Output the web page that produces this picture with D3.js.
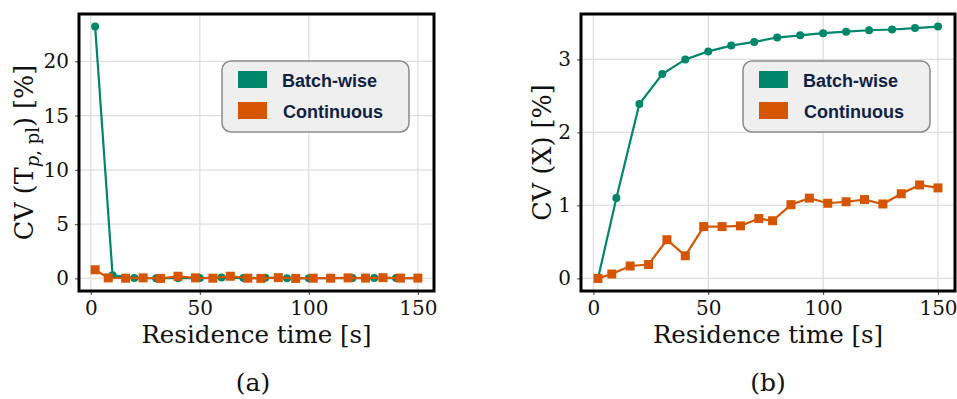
<!DOCTYPE html>
<html>
<head>
<meta charset="utf-8">
<script src="https://cdn.jsdelivr.net/npm/d3@7"></script>
<style>
  body { margin: 0; background: #fff; }
  svg text { font-family: "DejaVu Serif", serif; fill: #111; }
  .legend text { font-family: "Liberation Sans", Arial, sans-serif; font-weight: bold; fill: #0f1f45; }
</style>
</head>
<body>
<script>
var W = 957, H = 399;

// residence times [s]
var batchTimes = [2, 10, 20, 30, 40, 50, 60, 70, 80, 90, 100, 110, 120, 130, 140, 150];
var contTimes = [2, 8, 16, 24, 32, 40, 48, 56, 64, 72, 78, 86, 94, 102, 110, 118, 126, 134, 142, 150];

// (a) CV of T_p,pl [%]
var batchTp = [23.2, 0.3, 0.04, 0.02, 0.02, 0.03, 0.08, 0.03, 0.05, 0.02, 0.02, 0.03, 0.04, 0.03, 0.03, 0.03];
var contTp = [0.8, 0.05, 0.02, 0.05, 0.0, 0.2, 0.05, 0.02, 0.2, 0.02, 0.0, 0.07, 0.0, 0.02, 0.02, 0.05, 0.03, 0.07, 0.03, 0.03];

// (b) CV of X [%]
var batchX = [0, 1.10, 2.39, 2.80, 3.00, 3.11, 3.19, 3.24, 3.30, 3.33, 3.36, 3.38, 3.40, 3.41, 3.43, 3.45];
var contX = [0, 0.06, 0.17, 0.19, 0.53, 0.31, 0.71, 0.71, 0.72, 0.82, 0.79, 1.01, 1.10, 1.03, 1.05, 1.08, 1.02, 1.16, 1.28, 1.24];

var xTicks = [0, 50, 100, 150];
var yTicksA = [0, 5, 10, 15, 20];
var yTicksB = [0, 1, 2, 3];
var seriesNames = ["Batch-wise", "Continuous"];
var colors = { "Batch-wise": "#00866a", "Continuous": "#d65500" };

var svg = d3.select("body").append("svg").attr("width", W).attr("height", H);

// matplotlib style 5% margins
function padded(vals) {
  var e = d3.extent(vals), m = (e[1] - e[0]) * 0.05;
  return [e[0] - m, e[1] + m];
}

function panel(opt) {
  var g = svg.append("g");
  var x = d3.scaleLinear().domain(padded(batchTimes.concat(contTimes))).range([opt.left, opt.right]);
  var y = d3.scaleLinear().domain(padded(opt.batch.concat(opt.cont))).range([opt.bottom, opt.top]);

  // grid
  g.selectAll(".vgrid").data(xTicks).enter().append("line")
    .attr("x1", function(d) { return x(d); }).attr("x2", function(d) { return x(d); })
    .attr("y1", opt.top).attr("y2", opt.bottom)
    .style("stroke", "#dedede").style("stroke-width", 1.3);
  g.selectAll(".hgrid").data(opt.yTicks).enter().append("line")
    .attr("y1", function(d) { return y(d); }).attr("y2", function(d) { return y(d); })
    .attr("x1", opt.left).attr("x2", opt.right)
    .style("stroke", "#dedede").style("stroke-width", 1.3);

  // axes
  var xAxis = g.append("g").attr("transform", "translate(0," + opt.bottom + ")")
    .call(d3.axisBottom(x).tickValues(xTicks).tickFormat(d3.format("d")).tickSize(4).tickPadding(6));
  var yAxis = g.append("g").attr("transform", "translate(" + opt.left + ",0)")
    .call(d3.axisLeft(y).tickValues(opt.yTicks).tickFormat(d3.format("d")).tickSize(4).tickPadding(6));
  [xAxis, yAxis].forEach(function(a) {
    a.select(".domain").remove();
    a.selectAll(".tick line").style("stroke", "#444").style("stroke-width", 1);
    a.selectAll(".tick text").style("font-family", "DejaVu Serif").style("font-size", "20px").style("fill", "#111");
  });

  // series
  var line = function(xs, ys) {
    return d3.line().x(function(d, i) { return x(xs[i]); }).y(function(d) { return y(d); })(ys);
  };
  g.append("path").attr("d", line(batchTimes, opt.batch))
    .style("fill", "none").style("stroke", colors["Batch-wise"]).style("stroke-width", 2.2);
  g.selectAll(".dot").data(opt.batch).enter().append("circle")
    .attr("cx", function(d, i) { return x(batchTimes[i]); })
    .attr("cy", function(d) { return y(d); })
    .attr("r", 4).style("fill", colors["Batch-wise"]);
  g.append("path").attr("d", line(contTimes, opt.cont))
    .style("fill", "none").style("stroke", colors["Continuous"]).style("stroke-width", 2.2);
  g.selectAll(".sq").data(opt.cont).enter().append("rect")
    .attr("x", function(d, i) { return x(contTimes[i]) - 4.5; })
    .attr("y", function(d) { return y(d) - 4.5; })
    .attr("width", 9).attr("height", 9).style("fill", colors["Continuous"]);

  // frame
  g.append("rect").attr("x", opt.left).attr("y", opt.top)
    .attr("width", opt.right - opt.left).attr("height", opt.bottom - opt.top)
    .style("fill", "none").style("stroke", "#000").style("stroke-width", 3);

  // labels
  g.append("text").attr("x", (opt.left + opt.right) / 2).attr("y", 343)
    .attr("text-anchor", "middle").style("font-size", "24.5px").text("Residence time [s]");
  g.append("text").attr("x", opt.capX).attr("y", 391)
    .attr("text-anchor", "middle").style("font-size", "25px").text(opt.caption);
  var yl = g.append("text")
    .attr("transform", "translate(" + opt.ylabelX + "," + (opt.top + opt.bottom) / 2 + ") rotate(-90)")
    .attr("text-anchor", "middle").style("font-size", "25.5px");
  opt.ylabel(yl);

  // legend
  var lg = g.append("g").attr("class", "legend").attr("transform", "translate(" + opt.legX + ",61)");
  lg.append("rect").attr("width", 187).attr("height", 71).attr("rx", 9)
    .style("fill", "#efefef").style("stroke", "#8a8a8a").style("stroke-width", 1.5);
  seriesNames.forEach(function(s, i) {
    lg.append("rect").attr("x", 16).attr("y", 10 + i * 31).attr("width", 29).attr("height", 17)
      .style("fill", colors[s]);
    lg.append("text").attr("x", 60 + i).attr("y", 26 + i * 31)
      .style("font-size", "18px").text(s);
  });
}

panel({
  left: 79, right: 434, top: 14, bottom: 291,
  batch: batchTp, cont: contTp, yTicks: yTicksA, caption: "(a)", capX: 253,
  ylabelX: 33, legX: 222,
  ylabel: function(t) {
    t.append("tspan").text("CV (T");
    t.append("tspan").attr("dy", 6).style("font-size", "18px").style("font-style", "italic").text("p");
    t.append("tspan").style("font-size", "18px").text(", pl");
    t.append("tspan").attr("dy", -6).text(") [%]");
  }
});

panel({
  left: 581, right: 955, top: 14, bottom: 291,
  batch: batchX, cont: contX, yTicks: yTicksB, caption: "(b)", capX: 768,
  ylabelX: 551, legX: 743,
  ylabel: function(t) { t.text("CV (X) [%]"); }
});
</script>
</body>
</html>
